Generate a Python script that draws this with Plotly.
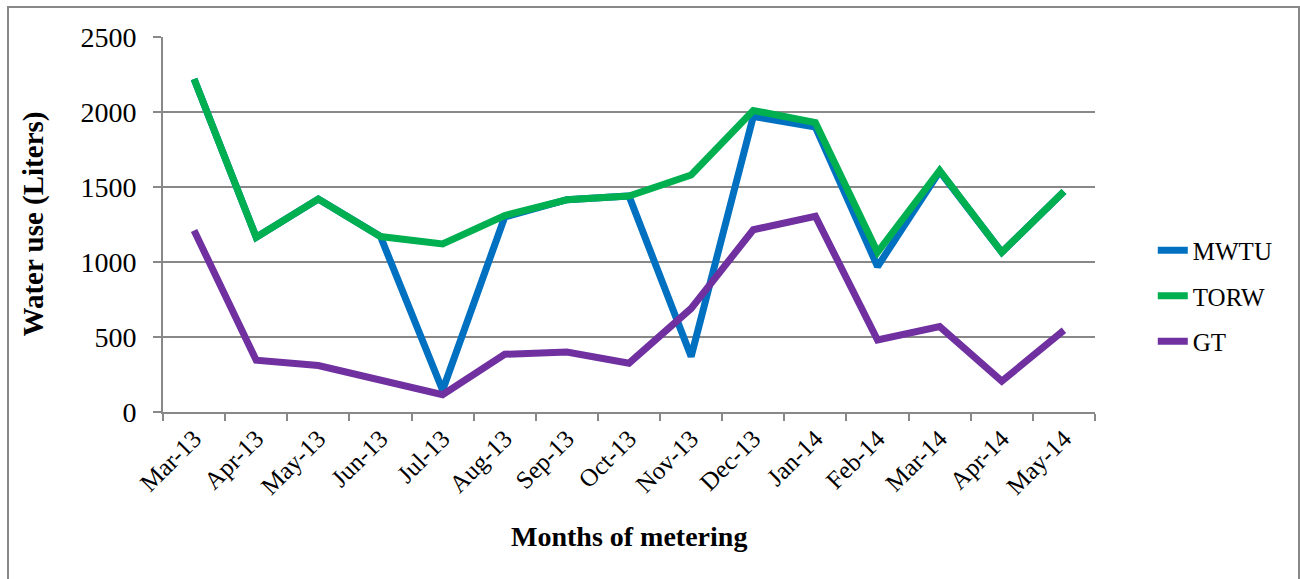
import plotly.graph_objects as go

months = ["Mar-13", "Apr-13", "May-13", "Jun-13", "Jul-13", "Aug-13", "Sep-13", "Oct-13",
          "Nov-13", "Dec-13", "Jan-14", "Feb-14", "Mar-14", "Apr-14", "May-14"]
mwtu = [2220, 1165, 1420, 1170, 145, 1300, 1415, 1440, 370, 1970, 1900, 970, 1605, 1065, 1470]
torw = [2220, 1165, 1420, 1170, 1120, 1310, 1415, 1440, 1580, 2010, 1930, 1065, 1610, 1065, 1470]
gt = [1210, 345, 310, 210, 115, 385, 400, 325, 690, 1215, 1305, 480, 570, 205, 545]

series = [("MWTU", mwtu, "#0070C0"), ("TORW", torw, "#00B050"), ("GT", gt, "#7030A0")]

FONT = "Liberation Serif"

fig = go.Figure()
for i, (name, vals, col) in enumerate(series):
    fig.add_trace(go.Scatter(
        x=months, y=vals, name=name, mode="lines", legendgroup=f"g{i}",
        line=dict(color=col, width=7),
    ))

fig.update_layout(
    width=1300, height=579,
    margin=dict(l=163, r=205, t=37, b=167, autoexpand=False),
    paper_bgcolor="white", plot_bgcolor="white",
    font=dict(family=FONT, color="black", size=22),
    showlegend=True,
    legend=dict(x=1.062, y=(412 - 296) / 375, xanchor="left", yanchor="middle",
                font=dict(family=FONT, size=25), tracegroupgap=10,
                traceorder="grouped", itemwidth=30),
    xaxis=dict(
        type="category", range=[-0.5, len(months) - 0.5], automargin=False,
        showgrid=False, showline=True, linecolor="#888888", linewidth=2,
        ticks="outside", tickson="boundaries", ticklen=7, tickwidth=2, tickcolor="#888888",
        tickangle=-45, tickfont=dict(family=FONT, size=25), zeroline=False,
    ),
    yaxis=dict(
        range=[0, 2500], dtick=500, showgrid=True, gridcolor="#888888", gridwidth=2,
        showline=True, linecolor="#888888", linewidth=2, zeroline=False, automargin=False,
        ticks="outside", ticklen=8, tickwidth=2, tickcolor="#888888",
        ticklabelstandoff=11,
        tickfont=dict(family=FONT, size=28),
    ),
    annotations=[
        dict(text="<b>Water use (Liters)</b>", xref="paper", yref="paper",
             x=(33 - 163) / 932, y=0.5, textangle=-90, showarrow=False,
             font=dict(family=FONT, size=29), xanchor="center", yanchor="middle"),
        dict(text="<b>Months of metering</b>", xref="paper", yref="paper",
             x=0.5, y=(412 - 536) / 375, showarrow=False,
             font=dict(family=FONT, size=28), xanchor="center", yanchor="middle"),
    ],
    shapes=[dict(type="rect", xref="paper", yref="paper",
                 x0=(8 - 163) / 932, x1=(1299 - 163) / 932,
                 y0=(412 - 590) / 375, y1=(412 - 7) / 375,
                 line=dict(color="#888888", width=2), fillcolor="rgba(0,0,0,0)", layer="below")],
)

fig.write_html("out.html", config={"displayModeBar": False},
               post_script="document.body.style.margin='0';document.body.style.overflow='hidden';")
